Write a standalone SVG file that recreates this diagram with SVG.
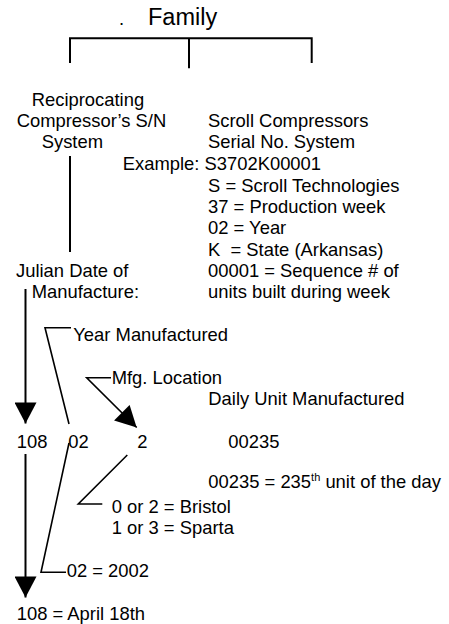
<svg xmlns="http://www.w3.org/2000/svg" width="449" height="624" viewBox="0 0 449 624">
<style>
text{font-family:"Liberation Sans",Arial,sans-serif;font-size:18.4px;fill:#000;white-space:pre}
.title{font-size:23.5px}
.ln{stroke:#000;stroke-width:1.6;fill:none}
.thick{stroke:#000;stroke-width:2;fill:none}
.sup{font-size:11px}
</style>
<defs>
<marker id="ah" markerUnits="userSpaceOnUse" markerWidth="22" markerHeight="22" refX="20" refY="10.5" orient="auto" viewBox="0 0 20 21">
<path d="M0,0 L20,10.5 L0,21 Z" fill="#000"/>
</marker>
</defs>
<rect width="449" height="624" fill="#fff"/>
<g id="family">
<text x="119" y="25">.</text>
<text class="title" x="148" y="25">Family</text>
</g>
<g id="connectors">
<path class="thick" d="M70,63 V38.3 H311.7 V63 M189,38.3 V68.3"/>
<path class="thick" d="M70,156 V252"/>
<path class="thick" d="M25.5,289 V423.5" marker-end="url(#ah)"/>
<path class="thick" d="M25.5,454 V597.5" marker-end="url(#ah)"/>
<path class="ln" d="M71,327.7 H45 L69,424"/>
<path class="ln" d="M111,377.7 H86.7 L136.7,427.5" marker-end="url(#ah)"/>
<path class="ln" d="M69,443 L41,572.3 H66"/>
<path class="ln" d="M127.3,455 L78.3,504 H102.3"/>
</g>
<g id="recip">
<text x="31.7" y="106">Reciprocating</text>
<text x="16.7" y="126.7">Compressor’s S/N</text>
<text x="41.7" y="148">System</text>
</g>
<g id="scroll">
<text x="208" y="126.7">Scroll Compressors</text>
<text x="208" y="148">Serial No. System</text>
<text x="122.7" y="170">Example: S3702K00001</text>
<text x="208" y="191.7">S = Scroll Technologies</text>
<text x="208" y="213">37 = Production week</text>
<text x="208" y="234.3">02 = Year</text>
<text x="208" y="255.7">K  = State (Arkansas)</text>
<text x="208" y="277">00001 = Sequence # of</text>
<text x="208" y="298.3">units built during week</text>
</g>
<g id="julian">
<text x="16" y="277">Julian Date of</text>
<text x="31.7" y="298.3">Manufacture:</text>
</g>
<g id="year-mfg"><text x="73.3" y="341">Year Manufactured</text></g>
<g id="mfg-loc"><text x="111.7" y="384.3">Mfg. Location</text></g>
<g id="daily"><text x="208.3" y="405">Daily Unit Manufactured</text></g>
<g id="serial">
<text x="16.7" y="448.3">108</text>
<text x="68.3" y="448.3">02</text>
<text x="137.3" y="448.3">2</text>
<text x="228.3" y="448.3">00235</text>
</g>
<g id="unit-day"><text x="208.3" y="488.3">00235 = 235<tspan class="sup" dy="-7">th</tspan><tspan dy="7"> unit of the day</tspan></text></g>
<g id="location">
<text x="111.7" y="513.3">0 or 2 = Bristol</text>
<text x="111.7" y="534.3">1 or 3 = Sparta</text>
</g>
<g id="year"><text x="66.7" y="577.3">02 = 2002</text></g>
<g id="julian-val"><text x="16.7" y="620">108 = April 18th</text></g>
</svg>
